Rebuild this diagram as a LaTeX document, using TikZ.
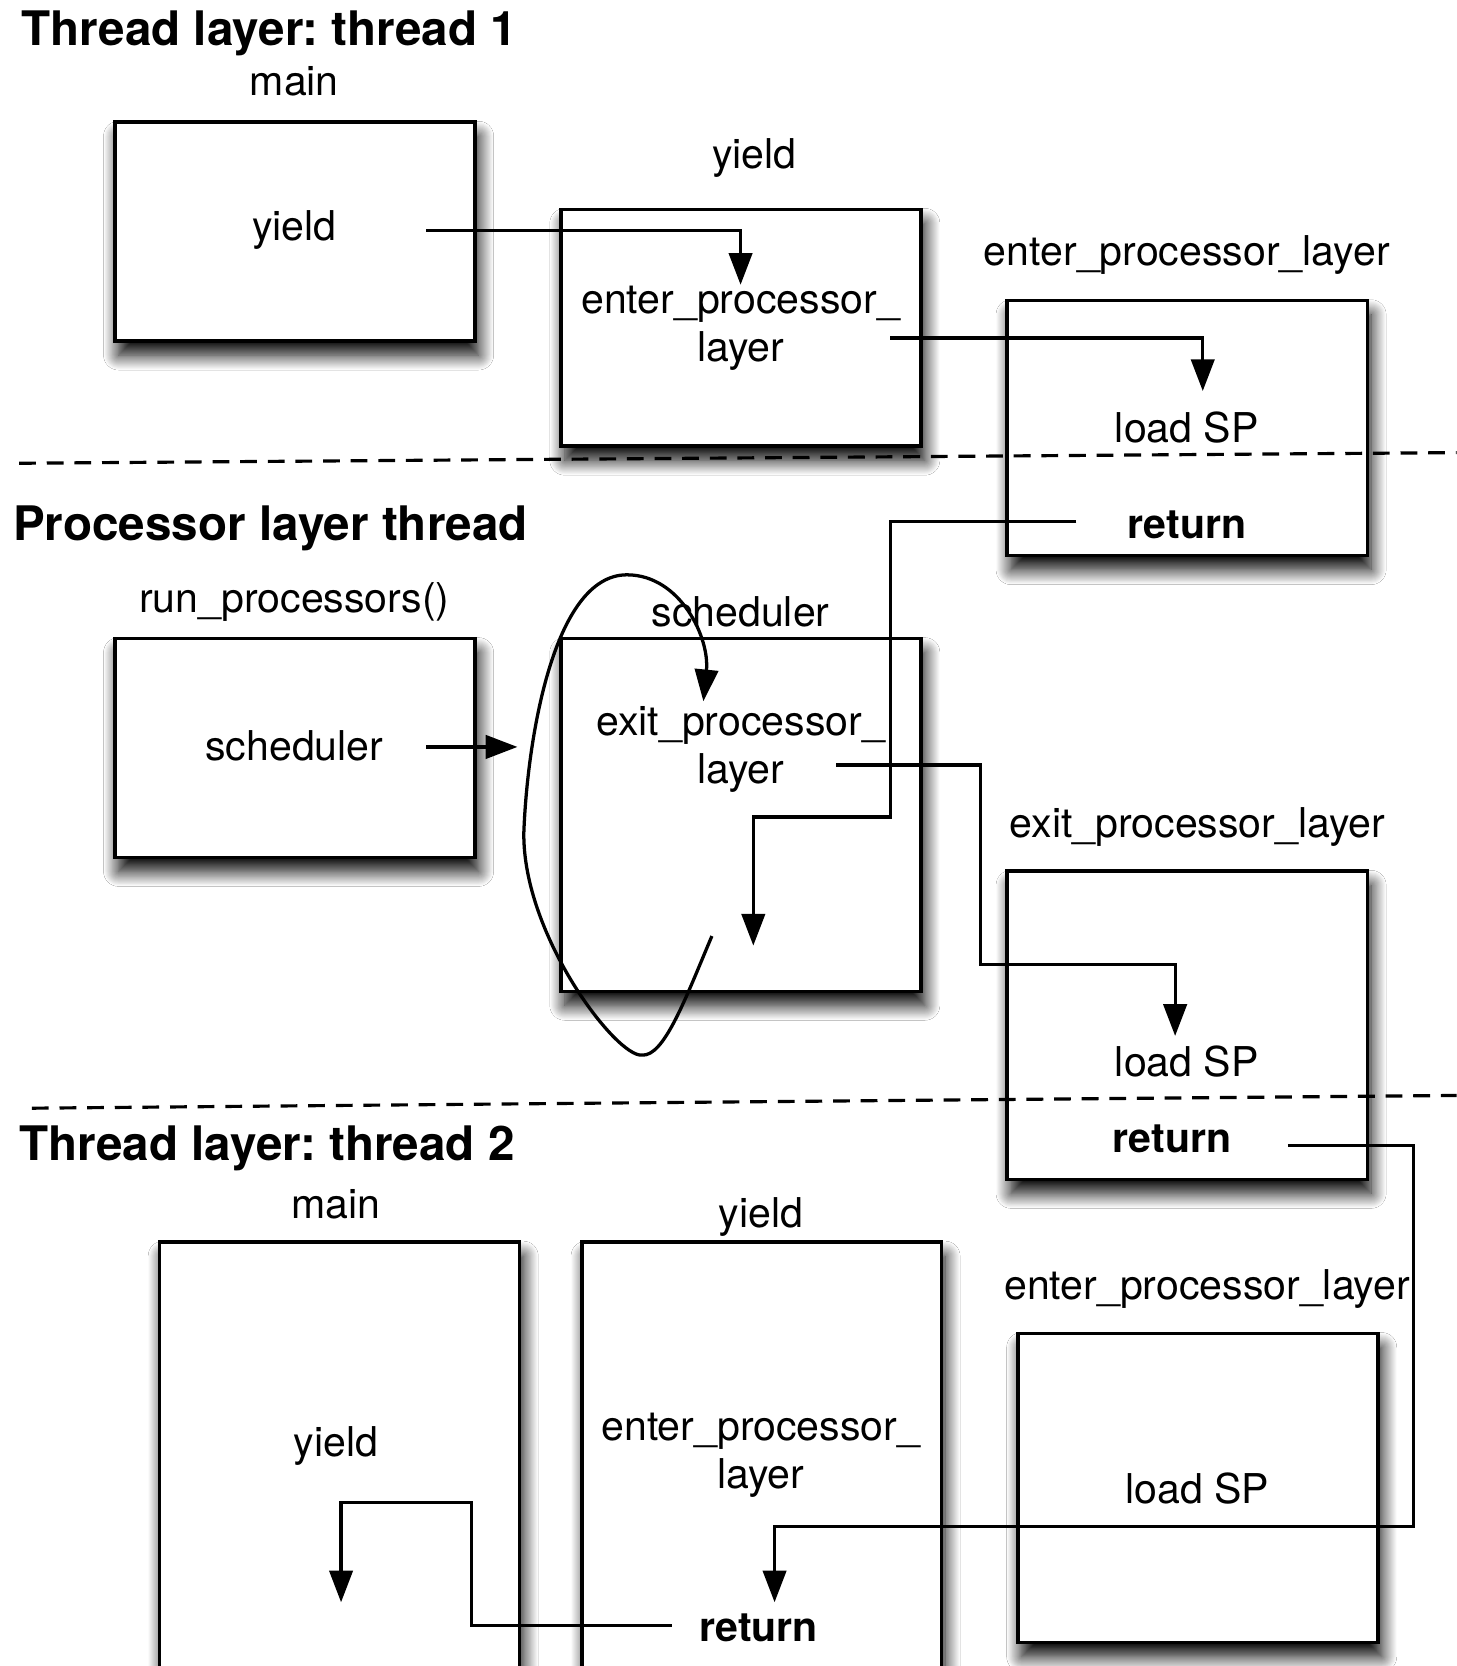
\documentclass[tikz,border=0pt]{standalone}
\usepackage{fontspec}
\setmainfont{TeX Gyre Heros}
\usetikzlibrary{arrows.meta,shadows.blur,fit}
\frenchspacing
\begin{document}
\begin{tikzpicture}[x=0.02cm,y=-0.02cm,
  box/.style={draw, line width=1.9pt, fill=white, inner sep=0pt,
    blur shadow={shadow xshift=2pt, shadow yshift=-7.5pt, shadow blur radius=8pt, shadow blur steps=16, shadow opacity=100}},
  lbl/.style={anchor=base, inner sep=0pt, font=\fontsize{22}{25.6}\selectfont, align=center},
  bl/.style={lbl, font=\fontsize{22}{25.6}\selectfont\bfseries},
  ttl/.style={anchor=base west, inner sep=0pt, font=\fontsize{25.5}{30}\selectfont\bfseries},
  conn/.style={line width=1.75pt, -{Triangle[length=17pt,width=12.5pt]}},
  sep/.style={line width=1.7pt, dash pattern=on 9pt off 5.8pt}]
\fill[white] (0,0) rectangle (1371,1568);
\useasboundingbox (0,0) rectangle (1371,1568);
\clip (0,0) rectangle (1371,1568);

% boxes
\node[box, fit={(108,115) (447,321)}] (m1) {};
\node[box, fit={(528,197) (867,420)}] (y1) {};
\node[box, fit={(948,283) (1287,523)}] (e1) {};
\node[box, fit={(108,601) (447,807)}] (rp) {};
\node[box, fit={(528,601) (867,933)}] (sc) {};
\node[box, fit={(948,820) (1287,1110)}] (x1) {};
\node[box, fit={(150,1169) (489,1640)}] (m2) {};
\node[box, fit={(548,1169) (886,1640)}] (y2) {};
\node[box, fit={(958,1255) (1297,1546)}] (e2) {};

% separators
\coordinate (d1a) at (18,436); \coordinate (d1b) at (1371,426);
\coordinate (d2a) at (30,1043); \coordinate (d2b) at (1371,1031);
\draw[sep] (d1a) -- (d1b);
\draw[sep] (d2a) -- (d2b);

% texts
\node[ttl] (t1) at (20,43) {Thread layer: thread 1};
\node[lbl] (m1l) at (277,90) {main};
\node[lbl] (m1y) at (277,226) {yield};
\node[lbl] (y1l) at (710,159) {yield};
\node[lbl] (y1t) at (697,340) {enter\_processor\_\\layer};
\node[lbl] (e1l) at (1117,250) {enter\_processor\_layer};
\node[lbl] (e1sp) at (1117,416) {load SP};
\node[bl] (e1r) at (1117,507) {return};
\node[ttl] (t2) at (12,509) {Processor layer thread};
\node[lbl] (rpl) at (277,576) {run\_processors()};
\node[lbl] (rps) at (277,716) {scheduler};
\node[lbl] (scl) at (697,590) {scheduler};
\node[lbl] (sct) at (697,737) {exit\_processor\_\\layer};
\node[lbl] (x1l) at (1127,788) {exit\_processor\_layer};
\node[lbl] (x1sp) at (1117,1013) {load SP};
\node[bl] (x1r) at (1103,1085) {return};
\node[ttl] (t3) at (18,1092) {Thread layer: thread 2};
\node[lbl] (m2l) at (316,1147) {main};
\node[lbl] (y2l) at (716,1155) {yield};
\node[lbl] (e2l) at (1136,1223) {enter\_processor\_layer};
\node[lbl] (m2y) at (316,1371) {yield};
\node[lbl] (y2t) at (716,1401) {enter\_processor\_\\layer};
\node[lbl] (e2sp) at (1127,1415) {load SP};
\node[bl] (y2r) at (714,1545) {return};

% connector ends
\coordinate (a1s) at (401,217); \coordinate (a1e) at (697,268);
\coordinate (a2s) at (838,318); \coordinate (a2e) at (1132,368);
\coordinate (a3s) at (1013,491); \coordinate (a3m) at (838,769); \coordinate (a3e) at (709,890);
\coordinate (a4s) at (401,703); \coordinate (a4e) at (487,703);
\coordinate (a5s) at (787,720); \coordinate (a5m) at (923,908); \coordinate (a5e) at (1106,975);
\coordinate (a6s) at (1212,1078); \coordinate (a6m) at (1330,1437); \coordinate (a6e) at (729,1508);
\coordinate (a7s) at (632,1530); \coordinate (a7m) at (444,1414); \coordinate (a7e) at (321,1508);
\coordinate (ls) at (670,881); \coordinate (lb) at (604,993); \coordinate (ll) at (493,784);
\coordinate (lt) at (590,541); \coordinate (le) at (662,660);

\draw[conn] (a1s) -| (a1e);
\draw[conn] (a2s) -| (a2e);
\draw[conn] (a3s) -| (a3m) -| (a3e);
\draw[conn] (a4s) -- (a4e);
\draw[conn] (a5s) -| (a5m) -| (a5e);
\draw[conn] (a6s) -| (a6m) -| (a6e);
\draw[conn] (a7s) -| (a7m) -| (a7e);
\draw[conn] (ls) .. controls (645,940) and (625,995) .. (lb)
  .. controls (580,995) and (492,880) .. (ll)
  .. controls (496,700) and (520,541) .. (lt)
  .. controls (640,541) and (668,600) .. (le);
\end{tikzpicture}
\end{document}
